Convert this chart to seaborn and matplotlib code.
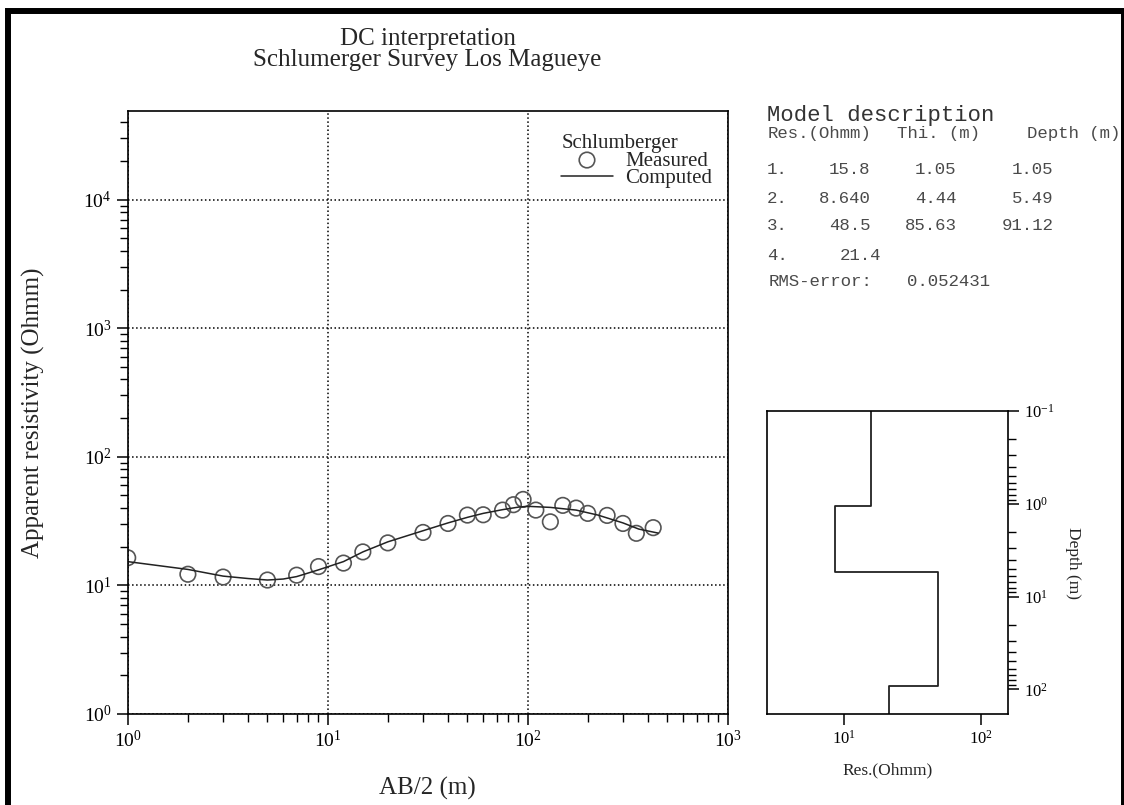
import matplotlib
matplotlib.use("Agg")
import matplotlib.pyplot as plt
from matplotlib.patches import Rectangle
from matplotlib.ticker import LogLocator, NullLocator, NullFormatter
import seaborn as sns

# Schlumberger sounding: half electrode spacing AB/2 (m) and apparent resistivity (Ohm.m)
ab2_measured = [1, 2, 3, 5, 7, 9, 12, 15, 20, 30, 40, 50, 60, 75, 85, 95,
                110, 130, 150, 175, 200, 250, 300, 350, 425]
rho_measured = [16.4, 12.2, 11.6, 11.0, 12.0, 14.0, 14.9, 18.2, 21.4, 25.8, 30.3,
                35.2, 35.4, 38.5, 42.4, 46.6, 38.5, 31.2, 41.9, 39.9, 36.3, 35.0,
                30.3, 25.4, 28.1]

# Response of the fitted layered model
ab2_computed = [1, 2, 3, 4, 5, 6, 7, 9, 12, 15, 20, 30, 40, 50, 60, 75, 90,
                100, 130, 175, 225, 300, 360, 450]
rho_computed = [15.3, 13.3, 11.8, 11.3, 11.0, 11.2, 11.7, 13.2, 15.3, 18.2, 21.8,
                26.6, 30.6, 33.8, 36.3, 38.8, 40.6, 41.2, 40.4, 38.5, 35.2, 30.6,
                27.4, 25.5]

# Layered earth model
layer_ids = ["1.", "2.", "3.", "4."]
res_text = ["15.8", "8.640", "48.5", "21.4"]
thick_text = ["1.05", "4.44", "85.63"]
depth_text = ["1.05", "5.49", "91.12"]
rms_text = "0.052431"

res_values = [float(s) for s in res_text]
depth_values = [float(s) for s in depth_text]

W, H = 1124, 805


def fx(px):
    return px / W


def fy(py):
    return 1 - py / H


sns.set_theme(style="ticks")
plt.rcParams["font.family"] = ["Liberation Serif", "DejaVu Serif"]
plt.rcParams["mathtext.fontset"] = "stix"
plt.rcParams["axes.edgecolor"] = "black"
plt.rcParams["axes.linewidth"] = 1.2
plt.rcParams["xtick.color"] = "black"
plt.rcParams["ytick.color"] = "black"

fig = plt.figure(figsize=(W / 100, H / 100), dpi=100)
fig.patch.set_facecolor("white")

# ---------------- sounding curve ----------------
ax_l, ax_r, ax_t, ax_b = 127.7, 727.5, 111, 713.9
ax = fig.add_axes([fx(ax_l), fy(ax_b), fx(ax_r) - fx(ax_l), fy(ax_t) - fy(ax_b)])

sns.lineplot(x=ab2_computed, y=rho_computed, ax=ax, color="#222222",
             linewidth=1.1, label="Computed", sort=False, estimator=None)
sns.scatterplot(x=ab2_measured, y=rho_measured, ax=ax, marker="o", s=125,
                facecolors="none", edgecolor="#555555", linewidth=1.2,
                label="Measured")

ax.set_xscale("log")
ax.set_yscale("log")
ax.set_xlim(1, 1000)
ax.set_ylim(1, 10 ** 4.69)

ax.xaxis.set_major_locator(LogLocator(base=10, numticks=10))
ax.yaxis.set_major_locator(LogLocator(base=10, numticks=10))
ax.xaxis.set_minor_locator(LogLocator(base=10, subs=range(2, 10), numticks=20))
ax.yaxis.set_minor_locator(LogLocator(base=10, subs=range(2, 10), numticks=20))
ax.xaxis.set_minor_formatter(NullFormatter())
ax.yaxis.set_minor_formatter(NullFormatter())
ax.tick_params(which="major", direction="out", length=8, width=1.1, labelsize=14,
               top=False, right=False)
ax.tick_params(which="minor", direction="out", length=5.5, width=1.0,
               top=False, right=False)
ax.grid(which="major", linestyle=":", color="black", linewidth=1.1)
ax.grid(which="minor", visible=False)
for sp in ax.spines.values():
    sp.set_visible(True)
    sp.set_color("black")

ax.set_xlabel("AB/2 (m)", fontsize=18)
ax.xaxis.set_label_coords(0.5, -0.105)
ax.set_ylabel("Apparent resistivity (Ohmm)", fontsize=18)
ax.yaxis.set_label_coords(-0.138, 0.5)

handles, labels = ax.get_legend_handles_labels()
order = [labels.index("Measured"), labels.index("Computed")]
leg = ax.legend([handles[i] for i in order], [labels[i] for i in order],
                title="Schlumberger", loc="upper right",
                bbox_to_anchor=((712 - ax_l) / (ax_r - ax_l), (ax_b - 134) / (ax_b - ax_t)),
                frameon=False, fontsize=15, title_fontsize=15, handlelength=2.45,
                handletextpad=0.6, labelspacing=-0.1, borderpad=0, borderaxespad=0,
                alignment="left")

fig.text(fx((ax_l + ax_r) / 2), fy(49.5), "DC interpretation\nSchlumerger Survey Los Magueye",
         ha="center", va="center", fontsize=18, linespacing=0.95)

# ---------------- model description ----------------
mono = ["Liberation Mono", "DejaVu Sans Mono"]
grey = "#4a4a4a"
fig.text(fx(766.7), fy(115), "Model description", family=mono, fontsize=16,
         color="#333333", ha="left", va="center")
fig.text(fx(767.5), fy(133.3), "Res.(Ohmm)", family=mono, fontsize=12.5, color=grey,
         ha="left", va="center")
fig.text(fx(896.7), fy(133.3), "Thi. (m)", family=mono, fontsize=12.5, color=grey,
         ha="left", va="center")
fig.text(fx(1026.7), fy(133.3), "Depth (m)", family=mono, fontsize=12.5, color=grey,
         ha="left", va="center")

row_y = [170, 198.3, 226, 255]
res_right = [870.7, 870.7, 870.7, 881.7]
for i, lid in enumerate(layer_ids):
    fig.text(fx(766.7), fy(row_y[i]), lid, family=mono, fontsize=12.5, color=grey,
             ha="left", va="center")
    fig.text(fx(res_right[i]), fy(row_y[i]), res_text[i], family=mono, fontsize=12.5,
             color=grey, ha="right", va="center")
    if i < len(thick_text):
        fig.text(fx(956.7), fy(row_y[i]), thick_text[i], family=mono, fontsize=12.5,
                 color=grey, ha="right", va="center")
        fig.text(fx(1053.3), fy(row_y[i]), depth_text[i], family=mono, fontsize=12.5,
                 color=grey, ha="right", va="center")
fig.text(fx(768.3), fy(281.7), "RMS-error:", family=mono, fontsize=12.5, color=grey,
         ha="left", va="center")
fig.text(fx(906.7), fy(281.7), rms_text, family=mono, fontsize=12.5, color=grey,
         ha="left", va="center")

# ---------------- resistivity-depth section ----------------
m_l, m_r, m_t, m_b = 766.7, 1007.7, 411, 714
ax2 = fig.add_axes([fx(m_l), fy(m_b), fx(m_r) - fx(m_l), fy(m_t) - fy(m_b)])
depth_top, depth_bottom = 0.1, 184
ax2.set_xscale("log")
ax2.set_yscale("log")
ax2.set_xlim(2.74, 157)
ax2.set_ylim(depth_bottom, depth_top)

bounds = [depth_top] + depth_values + [depth_bottom]
step_x, step_y = [], []
for i, r in enumerate(res_values):
    step_x += [r, r]
    step_y += [bounds[i], bounds[i + 1]]
sns.lineplot(x=step_x, y=step_y, ax=ax2, color="#222222", linewidth=1.3,
             sort=False, estimator=None)

ax2.xaxis.set_major_locator(LogLocator(base=10, numticks=10))
ax2.xaxis.set_minor_locator(NullLocator())
ax2.yaxis.set_major_locator(LogLocator(base=10, numticks=10))
ax2.yaxis.set_minor_locator(LogLocator(base=10, subs=range(2, 10), numticks=20))
ax2.yaxis.set_minor_formatter(NullFormatter())
ax2.yaxis.tick_right()
ax2.yaxis.set_label_position("right")
ax2.tick_params(which="major", direction="out", length=8, width=1.1, labelsize=12,
                left=False, top=False)
ax2.tick_params(which="minor", direction="out", length=6, width=1.0, left=False,
                top=False)
for sp in ax2.spines.values():
    sp.set_visible(True)
    sp.set_color("black")
ax2.grid(False)
ax2.set_xlabel("Res.(Ohmm)", fontsize=12.5)
ax2.xaxis.set_label_coords(0.5, -0.16)
ax2.set_ylabel("Depth (m)", fontsize=12.5, rotation=270, va="center")
ax2.yaxis.set_label_coords((1073 - m_l) / (m_r - m_l), 0.5)

# page frame
fig.patches.append(Rectangle((fx(8), -0.05), fx(1124) - fx(8), fy(11) + 0.05,
                             transform=fig.transFigure, fill=False,
                             edgecolor="black", linewidth=4.3, clip_on=False))

fig.savefig("out.png", dpi=100, facecolor="white")
